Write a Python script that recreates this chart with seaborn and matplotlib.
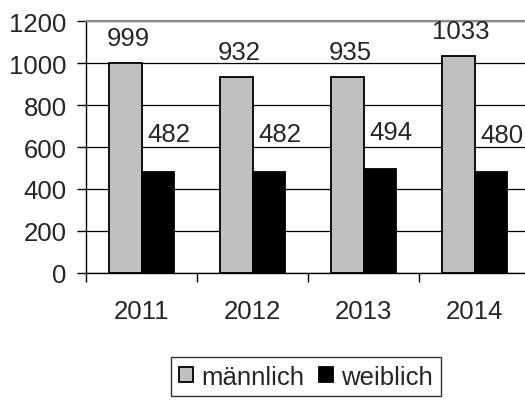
import pandas as pd
import matplotlib.pyplot as plt
import seaborn as sns

# values
jahre = ['2011', '2012', '2013', '2014']
maennlich = [999, 932, 935, 1033]
weiblich = [482, 482, 494, 480]
serien = ['männlich', 'weiblich']
farben = ['#c0c0c0', '#000000']
y_ticks = [0, 200, 400, 600, 800, 1000, 1200]

df = pd.DataFrame({
    'Jahr': jahre * 2,
    'Anzahl': maennlich + weiblich,
    'Geschlecht': [serien[0]] * len(jahre) + [serien[1]] * len(jahre),
})

FS = 18.5

sns.set_style('white')
plt.rcParams['font.family'] = ['Liberation Sans', 'DejaVu Sans']
plt.rcParams['font.size'] = FS

fig = plt.figure(figsize=(5.25, 4.02), dpi=100)
# the original is cropped on the right, so the axes run past the figure edge
ax = fig.add_axes([86 / 525, 128 / 402, 444 / 525, 252 / 402])

sns.barplot(data=df, x='Jahr', y='Anzahl', hue='Geschlecht',
            palette=farben, saturation=1, width=0.58, gap=0,
            edgecolor='black', linewidth=1.3, errorbar=None, ax=ax)

ax.set_xlim(-0.5, 3.5)
ax.set_ylim(0, 1200)
ax.set_yticks(y_ticks)
ax.set_xlabel('')
ax.set_ylabel('')

ax.yaxis.grid(True, color='black', linewidth=0.9)
ax.set_axisbelow(True)

ax.spines['right'].set_visible(False)
ax.spines['top'].set_color('#8c8c8c')
ax.spines['top'].set_linewidth(1.6)
ax.spines['left'].set_color('black')
ax.spines['bottom'].set_color('black')
ax.spines['left'].set_linewidth(1)
ax.spines['bottom'].set_linewidth(1)

# ticks between the categories, labels in the middle
ax.set_xticks([-0.5, 0.5, 1.5, 2.5, 3.5], minor=True)
ax.tick_params(axis='x', which='major', length=0, pad=19, labelsize=FS)
ax.tick_params(axis='x', which='minor', length=6.5, width=1, color='black',
               direction='out', bottom=True)
ax.tick_params(axis='y', length=6.5, width=1, color='black', pad=7.5,
               direction='out', left=True, labelsize=FS)

# value labels
offsets = [(2, 18), (8, 27)]
for cont, werte, (dx, dy) in zip(ax.containers, [maennlich, weiblich], offsets):
    for bar, w in zip(cont, werte):
        ax.annotate(str(w), (bar.get_x() + bar.get_width() / 2, bar.get_height()),
                    xytext=(dx, dy), textcoords='offset points',
                    ha='center', va='center', fontsize=FS)

handles, labels = ax.get_legend_handles_labels()
ax.get_legend().remove()
leg = fig.legend(handles, labels, loc='upper center', ncol=2,
                 bbox_to_anchor=(306 / 525, 1 - 358 / 402),
                 frameon=True, fancybox=False, edgecolor='black',
                 fontsize=FS, handlelength=0.55, handleheight=0.55,
                 handletextpad=0.3, columnspacing=0.6, borderpad=0.3,
                 borderaxespad=0)
leg.get_frame().set_linewidth(1)

fig.savefig('out.png', dpi=100)
